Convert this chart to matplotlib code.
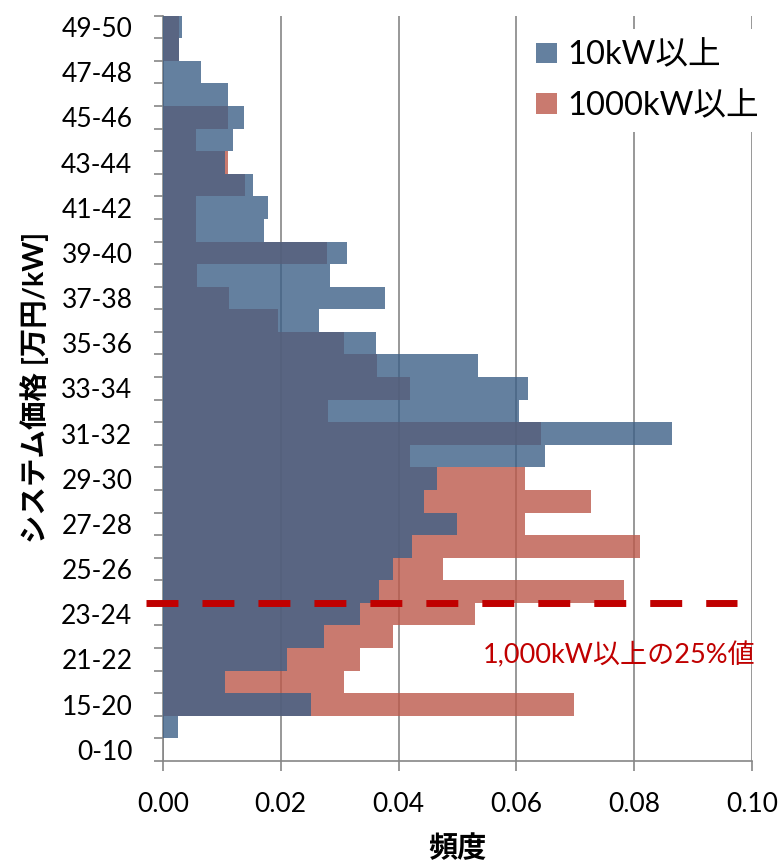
import numpy as np
import matplotlib
matplotlib.use("Agg")
import matplotlib.pyplot as plt

plt.rcParams['font.family'] = ['Lato', 'Noto Sans CJK JP', 'DejaVu Sans']

# price bins, bottom to top
bins = ['0-10', '10-15', '15-20'] + ['%d-%d' % (a, a + 1) for a in range(20, 50)]

# relative frequency, same order as bins
share_10kw = [0.0, 0.0026, 0.0251, 0.0105, 0.0210, 0.0273, 0.0334, 0.0366,
              0.0390, 0.0423, 0.0499, 0.0443, 0.0466, 0.0648, 0.0864, 0.0605,
              0.0619, 0.0534, 0.0362, 0.0265, 0.0377, 0.0284, 0.0312, 0.0172,
              0.0178, 0.0152, 0.0106, 0.0119, 0.0138, 0.0110, 0.0065, 0.0027,
              0.0033]
share_1000kw = [0.0, 0.0, 0.0698, 0.0307, 0.0335, 0.0391, 0.0530, 0.0782,
                0.0475, 0.0809, 0.0614, 0.0726, 0.0614, 0.0419, 0.0642, 0.0280,
                0.0419, 0.0363, 0.0307, 0.0196, 0.0112, 0.0057, 0.0279, 0.0056,
                0.0056, 0.0140, 0.0111, 0.0056, 0.0111, 0.0, 0.0, 0.0027,
                0.0027]

p25_bin = '24-25'   # 25% value of 1000kW+ (lower edge of this bin)
xticks = [0.0, 0.02, 0.04, 0.06, 0.08, 0.10]

grey = '#868686'
W, H = 779, 861
fig = plt.figure(figsize=(W / 100, H / 100), dpi=100)
ax = fig.add_axes([163 / W, 1 - 761 / H, (752 - 163) / W, (761 - 15.7) / H])

y = np.arange(len(bins))
b2 = ax.barh(y, share_1000kw, height=1.0, color='#BC594B', alpha=0.8,
             label='1000kW以上', zorder=2)
b1 = ax.barh(y, share_10kw, height=1.0, color='#3D6087', alpha=0.8,
             label='10kW以上', zorder=3)

ax.set_xlim(0, 0.10)
ax.set_ylim(-0.5, len(bins) - 0.5)
ax.set_xticks(xticks)
ax.set_xticklabels(['%.2f' % v for v in xticks])
ax.set_yticks(y[::2])
ax.set_yticklabels(bins[::2])
ax.set_yticks(np.arange(len(bins) + 1) - 0.5, minor=True)

ax.tick_params(axis='y', which='major', length=0, pad=22, labelsize=19)
ax.tick_params(axis='y', which='minor', length=6.5, width=1.2, color=grey)
ax.tick_params(axis='x', length=7, width=1.2, color=grey, pad=15, labelsize=19)

ax.set_axisbelow(True)
ax.xaxis.grid(True, color=grey, lw=1.2)
for s in ['top', 'right']:
    ax.spines[s].set_visible(False)
for s in ['left', 'bottom']:
    ax.spines[s].set_color(grey)
    ax.spines[s].set_linewidth(1.2)

# 25% line
yl = bins.index(p25_bin) - 0.5
ax.plot([-0.0029, 0.0975], [yl, yl], color='#C00000', lw=5,
        dashes=(4.6, 3.46), solid_capstyle='butt', dash_capstyle='butt',
        clip_on=False, zorder=5)
ax.text(0.0543, yl - 2.3, '1,000kW以上の25%値', color='#C00000',
        fontsize=19.5, ha='left', va='center', zorder=6)

fig.text(35 / W, 1 - 387 / H, 'システム価格 [万円/kW]', rotation=90,
         ha='center', va='center', fontsize=20.5, fontweight='bold')
fig.text(457 / W, 1 - 848 / H, '頻度', ha='center', va='center',
         fontsize=21, fontweight='bold')

leg = ax.legend([b1, b2], ['10kW以上', '1000kW以上'], loc='upper left',
                bbox_to_anchor=(525 / W, 1 - 29 / H),
                bbox_transform=fig.transFigure, borderaxespad=0,
                fontsize=23.5, frameon=True, fancybox=False, framealpha=1,
                edgecolor='none', handlelength=0.64, handleheight=0.58,
                handletextpad=0.31, labelspacing=0.63, borderpad=0.35)
leg.set_zorder(10)

fig.savefig('out.png', dpi=100)
